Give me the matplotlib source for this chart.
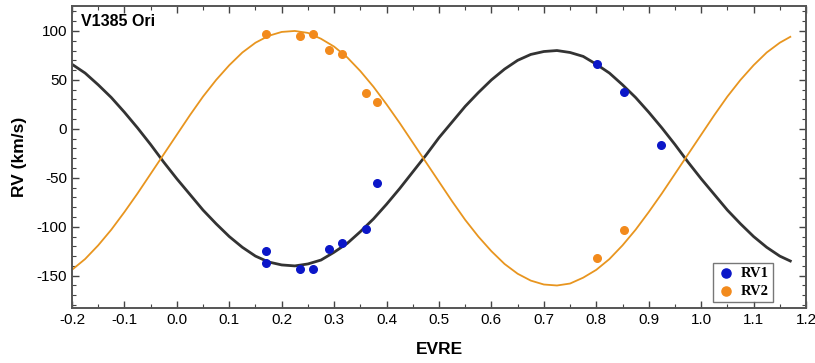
import matplotlib
matplotlib.use("Agg")
import matplotlib.pyplot as plt
from matplotlib.ticker import MultipleLocator

# === Data ===
# model curves (phase, RV)
curve_phase = [-0.200, -0.175, -0.150, -0.125, -0.100, -0.075, -0.050, -0.025,
               0.000, 0.025, 0.050, 0.075, 0.100, 0.125, 0.150, 0.175,
               0.200, 0.225, 0.250, 0.275, 0.300, 0.325, 0.350, 0.375,
               0.400, 0.425, 0.450, 0.475, 0.500, 0.525, 0.550, 0.575,
               0.600, 0.625, 0.650, 0.675, 0.700, 0.725, 0.750, 0.775,
               0.800, 0.825, 0.850, 0.875, 0.900, 0.925, 0.950, 0.975,
               1.000, 1.025, 1.050, 1.075, 1.100, 1.125, 1.150, 1.170]
curve_rv1 = [66, 57, 45, 32, 17, 1, -16, -34,
             -51, -67, -83, -97, -110, -121, -130, -136,
             -139, -140, -138, -134, -126, -117, -105, -92,
             -77, -61, -44, -27, -9, 7, 23, 37,
             50, 61, 70, 76, 79, 80, 78, 74,
             66, 57, 45, 32, 17, 1, -16, -34,
             -51, -67, -83, -97, -110, -121, -130, -135]
curve_rv2 = [-144, -133, -119, -103, -85, -66, -46, -26,
             -6, 14, 33, 50, 65, 78, 88, 95,
             99, 100, 98, 92, 84, 73, 59, 43,
             25, 6, -14, -34, -54, -74, -93, -110,
             -125, -138, -148, -155, -159, -160, -158, -152,
             -144, -133, -119, -103, -85, -66, -46, -26,
             -6, 14, 33, 50, 65, 78, 88, 94]

# observations
rv1_phase = [0.171, 0.171, 0.235, 0.259, 0.290, 0.315, 0.361, 0.382, 0.801, 0.853, 0.924]
rv1_vals = [-125, -137, -143, -143, -123, -117, -102, -55, 66, 38, -17]
rv2_phase = [0.171, 0.235, 0.259, 0.290, 0.315, 0.361, 0.382, 0.801, 0.853]
rv2_vals = [97, 95, 97, 81, 76, 37, 27, -132, -103]

# === Plot ===
plt.rcParams["font.family"] = ["Liberation Sans", "DejaVu Sans"]
plt.rcParams["axes.unicode_minus"] = False
fig = plt.figure(figsize=(8.15, 3.63), dpi=100)
ax = fig.add_axes([0.0883, 0.1515, 0.9007, 0.832])

ax.plot(curve_phase, curve_rv1, color="#333333", lw=2.0, zorder=2)
ax.plot(curve_phase, curve_rv2, color="#E8951F", lw=1.3, zorder=2)
ax.scatter(rv1_phase, rv1_vals, s=30, color="#0B16C8", zorder=3, label="RV1")
ax.scatter(rv2_phase, rv2_vals, s=30, color="#F28A1C", zorder=3, label="RV2")

ax.set_xlim(-0.2, 1.2)
ax.set_ylim(-183, 125.5)
ax.xaxis.set_major_locator(MultipleLocator(0.1))
ax.xaxis.set_minor_locator(MultipleLocator(0.05))
ax.yaxis.set_major_locator(MultipleLocator(50))
ax.yaxis.set_minor_locator(MultipleLocator(10))
ax.xaxis.set_major_formatter(plt.FuncFormatter(lambda v, p: f"{v:.1f}"))
ax.tick_params(which="both", direction="in", top=True, right=True,
               color="#444444", labelsize=11)
ax.tick_params(which="major", length=5, width=1)
ax.tick_params(which="minor", length=3, width=0.8)
for s in ax.spines.values():
    s.set_color("#555555")
    s.set_linewidth(1.4)

ax.set_xlabel("EVRE", fontsize=12.5, fontweight="bold", labelpad=11)
ax.set_ylabel("RV (km/s)", fontsize=12.5, fontweight="bold", labelpad=7)
ax.text(0.012, 0.975, "V1385 Ori", transform=ax.transAxes, ha="left", va="top",
        fontsize=11.5, fontweight="bold")

leg = ax.legend(loc="lower right", bbox_to_anchor=(0.965, -0.005), frameon=True,
                fancybox=False, borderpad=0.3, handletextpad=0.4,
                labelspacing=0.3, handlelength=1.2, markerscale=1.2,
                prop={"family": "Liberation Serif", "weight": "bold", "size": 10.5})
leg.get_frame().set_edgecolor("#555555")
leg.get_frame().set_linewidth(1.0)

plt.savefig("out.png", dpi=100)
